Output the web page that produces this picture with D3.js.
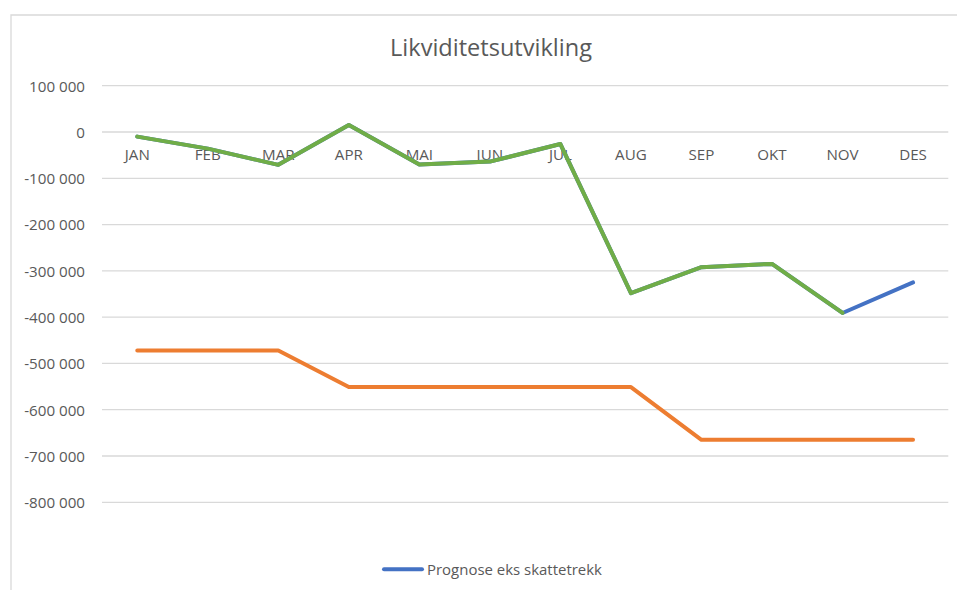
<!DOCTYPE html>
<html>
<head>
<meta charset="utf-8">
<script src="https://cdn.jsdelivr.net/npm/d3@7"></script>
<style>
  html, body { margin: 0; padding: 0; background: #fff; }
  svg { display: block; }
  text { font-family: "Open Sans", "Noto Sans", sans-serif; fill: #595959; }
</style>
</head>
<body>
<svg id="chart" width="957" height="590"></svg>
<script>
const title = "Likviditetsutvikling";
const months = ["JAN","FEB","MAR","APR","MAI","JUN","JUL","AUG","SEP","OKT","NOV","DES"];
const yTicks = [100000, 0, -100000, -200000, -300000, -400000, -500000, -600000, -700000, -800000];
const legendLabel = "Prognose eks skattetrekk";

// Series values
const prognoseEksSkattetrekk = [-10000, -36000, -71000, 15000, -70000, -64000, -26000, -348000, -292000, -285000, -391000, -325000];
const skattetrekk = [-472000, -472000, -472000, -551000, -551000, -551000, -551000, -551000, -665000, -665000, -665000, -665000];
const prognose = [-10000, -36000, -71000, 15000, -70000, -64000, -26000, -348000, -292000, -285000, -391000, null];

const colors = { blue: "#4472C4", orange: "#ED7D31", green: "#70AD47" };

const svg = d3.select("#chart");
const W = 957, H = 590;
const plot = { left: 102, right: 948.3, top: 85.7, bottom: 502.3 };

// Chart frame (only top and left edges visible in the crop)
svg.append("path")
  .attr("d", `M11,${H} L11,15 L${W},15`)
  .attr("fill", "none").attr("stroke", "#d9d9d9").attr("stroke-width", 1.3);

const x = d3.scaleBand().domain(months).range([plot.left, plot.right]).padding(0);
const y = d3.scaleLinear().domain([-800000, 100000]).range([plot.bottom, plot.top]);
const xc = m => x(m) + x.bandwidth() / 2;

function fitSize(sel, target, base) {
  sel.style("font-size", base + "px");
  const w = sel.node().getComputedTextLength();
  sel.style("font-size", (base * target / w).toFixed(2) + "px");
}

// Gridlines
svg.append("g").selectAll("line").data(yTicks).join("line")
  .attr("x1", plot.left).attr("x2", plot.right)
  .attr("y1", d => y(d)).attr("y2", d => y(d))
  .attr("stroke", "#d9d9d9").attr("stroke-width", 1.3);

// Y-axis labels (space as thousands separator, plain hyphen minus)
const fmt = d => d3.format(",")(d).replace(/,/g, " ").replace("\u2212", "-");
const probe = svg.append("text").text(fmt(100000));
fitSize(probe, 56, 15);
const tickSize = parseFloat(probe.style("font-size"));
probe.remove();

const yAxis = d3.axisLeft(y).tickValues(yTicks).tickFormat(fmt).tickSize(0).tickPadding(0);
const gy = svg.append("g").attr("transform", `translate(85,0)`).call(yAxis);
gy.select(".domain").remove();
gy.selectAll("text").attr("x", 0).attr("dy", "0.35em")
  .style("font-size", tickSize + "px").style("font-family", null).attr("fill", "#595959");

// X-axis labels at the zero line
const xAxis = d3.axisBottom(x).tickSize(0).tickPadding(0);
const gx = svg.append("g").attr("transform", `translate(0,${y(0)})`).call(xAxis);
gx.select(".domain").remove();
gx.selectAll("text").attr("y", 23).attr("dy", "0.35em")
  .style("font-size", tickSize + "px").style("font-family", null).attr("fill", "#595959");

// Lines
const line = d3.line().defined(d => d.v !== null).x(d => xc(d.m)).y(d => y(d.v));
const series = [
  { values: prognoseEksSkattetrekk, color: colors.blue },
  { values: skattetrekk, color: colors.orange },
  { values: prognose, color: colors.green }
];
svg.append("g").selectAll("path").data(series).join("path")
  .attr("d", s => line(s.values.map((v, i) => ({ m: months[i], v }))))
  .attr("fill", "none").attr("stroke", s => s.color)
  .attr("stroke-width", 4).attr("stroke-linejoin", "round").attr("stroke-linecap", "round");

// Title
const t = svg.append("text").attr("x", 491).attr("y", 47).attr("text-anchor", "middle")
  .attr("dominant-baseline", "central").text(title);
fitSize(t, 202, 22);

// Legend
svg.append("line").attr("x1", 384).attr("x2", 422).attr("y1", 569.3).attr("y2", 569.3)
  .attr("stroke", colors.blue).attr("stroke-width", 4).attr("stroke-linecap", "round");
const lt = svg.append("text").attr("x", 427).attr("y", 569.3).attr("dominant-baseline", "central")
  .text(legendLabel);
fitSize(lt, 175, 15);
</script>
</body>
</html>
